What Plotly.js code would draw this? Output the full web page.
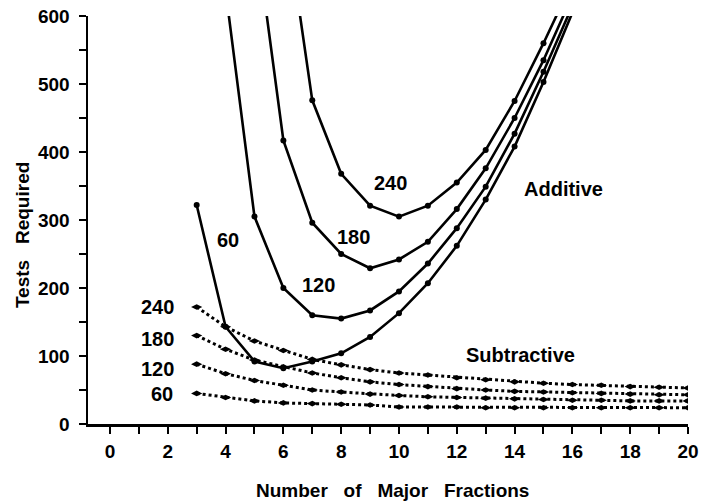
<!DOCTYPE html>
<html>
<head>
<meta charset="utf-8">
<script src="https://cdn.plot.ly/plotly-3.0.1.min.js"></script>
<style>html,body{margin:0;padding:0;background:#fff;}#chart{width:701px;height:504px;}</style>
</head>
<body>
<div id="chart"></div>
<script>
// Additive curves (x = number of major fractions)
const addX60  = [3,4,5,6,7,8,9,10,11,12,13,14,15,16];
const add60   = [322,143,92,82,92,104,128,163,207,262,330,408,503,605];
const addX120 = [4,5,6,7,8,9,10,11,12,13,14,15,16];
const add120  = [638,305,200,160,155,167,195,236,288,349,427,518,615];
const addX180 = [5,6,7,8,9,10,11,12,13,14,15,16];
const add180  = [736,417,296,250,229,242,268,316,376,450,535,630];
const addX240 = [6,7,8,9,10,11,12,13,14,15,16];
const add240  = [770,476,368,321,305,321,355,403,475,560,650];

// Subtractive curves
const subX   = [3,4,5,6,7,8,9,10,11,12,13,14,15,16,17,18,19,20];
const sub240 = [172,143,122,108,95,87,80,75,72,68,65,62,60,58,57,55,54,53];
const sub180 = [130,110,94,84,75,68,62,58,55,52,50,48,47,46,45,44,43,43];
const sub120 = [88,74,64,57,50,47,44,42,40,39,38,37,36,35,35,34,34,34];
const sub60  = [45,39,34,31,30,29,28,25,25,25,24,24,24,24,24,24,24,24];

// Curve labels
const addLabels = ["60","120","180","240"];
const addLabelX = [4.08,7.2,8.42,9.69];
const addLabelY = [270,204,275,354];
const subLabels = ["240","180","120","60"];
const subLabelX = [1.66,1.66,1.66,1.8];
const subLabelY = [172,125,81,44];
const groupLabels = ["Additive","Subtractive"];
const groupLabelX = [15.68,14.19];
const groupLabelY = [345,101];

const FONT = "Liberation Sans, Arial, Helvetica, sans-serif";

function addTrace(x,y){
  return {x:x,y:y,type:'scatter',mode:'lines+markers',
    line:{color:'#000',width:2.6},
    marker:{color:'#000',size:6,symbol:'circle'},
    showlegend:false,hoverinfo:'skip'};
}
function subTrace(x,y){
  return {x:x,y:y,type:'scatter',mode:'lines+markers',
    line:{color:'#000',width:3,dash:'dot'},
    marker:{color:'#000',size:8,symbol:'diamond-wide'},
    showlegend:false,hoverinfo:'skip'};
}

const data = [
  addTrace(addX60,add60), addTrace(addX120,add120),
  addTrace(addX180,add180), addTrace(addX240,add240),
  subTrace(subX,sub240), subTrace(subX,sub180),
  subTrace(subX,sub120), subTrace(subX,sub60)
];

const annotations = [];
function lab(t,x,y,size){
  annotations.push({text:t,x:x,y:y,xref:'x',yref:'y',showarrow:false,
    font:{family:FONT,size:size,color:'#000',weight:'bold'},xanchor:'center',yanchor:'middle'});
}
addLabels.forEach((t,i)=>lab(t,addLabelX[i],addLabelY[i],20));
subLabels.forEach((t,i)=>lab(t,subLabelX[i],subLabelY[i],20));
groupLabels.forEach((t,i)=>lab(t,groupLabelX[i],groupLabelY[i],20));

annotations.push({text:'Number\u00a0\u00a0 of\u00a0\u00a0 Major\u00a0\u00a0 Fractions',xref:'paper',yref:'paper',
  x:0.507,y:-0.162,showarrow:false,xanchor:'center',yanchor:'middle',
  font:{family:FONT,size:19,color:'#000',weight:'bold'}});
annotations.push({text:'Tests\u00a0\u00a0 Required',xref:'paper',yref:'paper',
  x:-0.11,y:0.463,showarrow:false,xanchor:'center',yanchor:'middle',textangle:-90,
  font:{family:FONT,size:19,color:'#000',weight:'bold'}});

const layout = {
  width:701,height:504,
  margin:{l:88,r:13,t:16,b:80,pad:0},
  paper_bgcolor:'#fff',plot_bgcolor:'#fff',
  font:{family:FONT,color:'#000'},
  xaxis:{range:[-0.76,20],showgrid:false,zeroline:false,showline:true,linecolor:'#000',linewidth:2.5,
    tickmode:'linear',tick0:0,dtick:2,ticks:'outside',ticklen:7,tickwidth:2,tickcolor:'#000',
    minor:{tickmode:'linear',tick0:1,dtick:2,ticks:'outside',ticklen:7,tickwidth:2,tickcolor:'#000',showgrid:false},
    tickfont:{family:FONT,size:19,color:'#000',weight:'bold'},ticklabelstandoff:2},
  yaxis:{range:[0,600],showgrid:false,zeroline:false,showline:true,linecolor:'#000',linewidth:2.5,
    tickmode:'linear',tick0:0,dtick:100,ticks:'outside',ticklen:7,tickwidth:2,tickcolor:'#000',
    minor:{tickmode:'linear',tick0:50,dtick:100,ticks:'outside',ticklen:7,tickwidth:2,tickcolor:'#000',showgrid:false},
    tickfont:{family:FONT,size:19,color:'#000',weight:'bold'},ticklabelstandoff:5},
  annotations:annotations,
  showlegend:false
};

Plotly.newPlot('chart',data,layout,{staticPlot:true,displayModeBar:false});
</script>
</body>
</html>
